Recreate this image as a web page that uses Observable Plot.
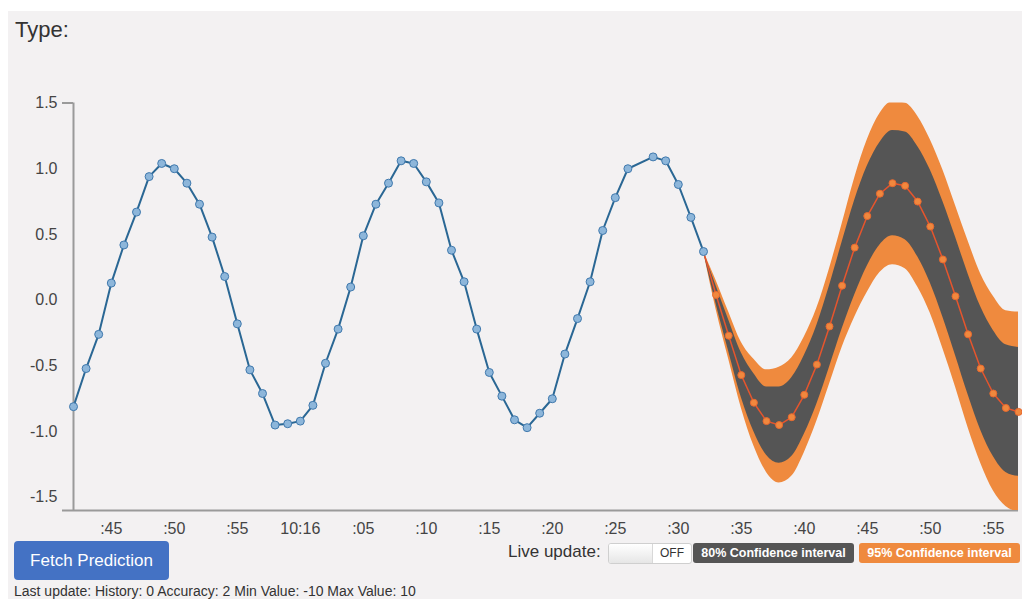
<!DOCTYPE html>
<html>
<head>
<meta charset="utf-8">
<script src="https://cdn.jsdelivr.net/npm/d3@7"></script>
<script src="https://cdn.jsdelivr.net/npm/@observablehq/plot@0.6"></script>
<style>
  html, body { margin: 0; padding: 0; background: #ffffff; }
  body { width: 1022px; height: 599px; position: relative; overflow: hidden; font-family: "Liberation Sans", Arial, sans-serif; }
  #panel { position: absolute; left: 8px; top: 11px; width: 1014px; height: 588px; background: #f3f1f2; }
  #chart { position: absolute; left: 0; top: 0; }
  .abs { position: absolute; white-space: nowrap; }
  #title { left: 15px; top: 19px; font-size: 22px; line-height: 22px; color: #333; }
  #btn { left: 14px; top: 541px; width: 155px; height: 39px; background: #4472c4; border-radius: 4px; color: #fff; font-size: 17px; line-height: 39px; text-align: center; }
  #last { left: 14px; top: 584px; font-size: 14px; line-height: 14px; color: #333; }
  #live { left: 508px; top: 543px; font-size: 17px; line-height: 18px; color: #333; }
  #toggle { left: 608px; top: 543px; width: 82px; height: 19px; border: 1px solid #cfcfcf; border-radius: 3px; background: #fff; overflow: hidden; }
  #toggle .knob { position: absolute; left: 0; top: 0; width: 43px; height: 19px; background: linear-gradient(#ffffff, #e6e6e6); border-right: 1px solid #d8d8d8; }
  #toggle .off { position: absolute; left: 44px; top: 0; width: 38px; height: 19px; line-height: 19px; font-size: 12px; color: #333; text-align: center; }
  .badge { top: 543px; height: 20px; line-height: 20px; border-radius: 3px; color: #fff; font-weight: bold; font-size: 12.5px; text-align: center; }
  #b80 { left: 693px; width: 161px; background: #555555; }
  #b95 { left: 859px; width: 161px; background: #ef8a3e; }
</style>
</head>
<body>
<div id="panel"></div>
<div id="chart"></div>
<div id="title" class="abs">Type:</div>
<div id="btn" class="abs">Fetch Prediction</div>
<div id="last" class="abs">Last update: History: 0 Accuracy: 2 Min Value: -10 Max Value: 10</div>
<div id="live" class="abs">Live update:</div>
<div id="toggle" class="abs"><div class="knob"></div><div class="off">OFF</div></div>
<div id="b80" class="abs badge">80% Confidence interval</div>
<div id="b95" class="abs badge">95% Confidence interval</div>
<script>
// seconds after 10:15:00
const histSec = [42,43,44,45,46,47,48,49,50,51,52,53,54,55,56,57,58,59,60,61,62,63,64,65,66,67,68,69,70,71,72,73,74,75,76,77,78,79,80,81,82,83,84,85,86,88,89,90,91,92];
const histVal = [-0.81,-0.52,-0.26,0.13,0.42,0.67,0.94,1.04,1.00,0.89,0.73,0.48,0.18,-0.18,-0.53,-0.71,-0.95,-0.94,-0.92,-0.80,-0.48,-0.22,0.10,0.49,0.73,0.89,1.06,1.04,0.90,0.74,0.38,0.14,-0.22,-0.55,-0.73,-0.91,-0.97,-0.86,-0.75,-0.41,-0.14,0.14,0.53,0.78,1.00,1.09,1.06,0.88,0.63,0.37];

const predSec = [93,94,95,96,97,98,99,100,101,102,103,104,105,106,107,108,109,110,111,112,113,114,115,116,117];
const predVal = [0.04,-0.27,-0.57,-0.78,-0.92,-0.95,-0.89,-0.72,-0.49,-0.20,0.11,0.40,0.64,0.81,0.89,0.87,0.75,0.56,0.31,0.03,-0.26,-0.52,-0.71,-0.82,-0.85];

const bandSec = [92,93,94,95,96,97,98,99,100,101,102,103,104,105,106,107,108,109,110,111,112,113,114,115,116,117];
const lo80 = [0.37,-0.03,-0.39,-0.74,-1.00,-1.18,-1.24,-1.19,-1.02,-0.79,-0.51,-0.22,0.04,0.26,0.42,0.49,0.46,0.33,0.13,-0.13,-0.42,-0.72,-0.99,-1.19,-1.31,-1.34];
const hi80 = [0.37,0.11,-0.15,-0.40,-0.56,-0.66,-0.66,-0.59,-0.42,-0.19,0.11,0.44,0.76,1.02,1.20,1.29,1.28,1.17,0.99,0.75,0.48,0.20,-0.05,-0.23,-0.34,-0.36];
const lo95 = [0.37,-0.07,-0.45,-0.82,-1.11,-1.31,-1.39,-1.34,-1.16,-0.92,-0.64,-0.36,-0.13,0.06,0.21,0.27,0.24,0.10,-0.10,-0.37,-0.66,-0.97,-1.24,-1.45,-1.57,-1.61];
const hi95 = [0.37,0.15,-0.09,-0.32,-0.45,-0.53,-0.51,-0.44,-0.28,-0.06,0.24,0.58,0.93,1.22,1.42,1.51,1.50,1.40,1.22,0.99,0.72,0.45,0.20,0.03,-0.08,-0.09];

const yTicks = [1.5,1.0,0.5,0.0,-0.5,-1.0,-1.5];
const yLabels = ["1.5","1.0","0.5","0.0","-0.5","-1.0","-1.5"];
const xTickSec = [45,50,55,60,65,70,75,80,85,90,95,100,105,110,115];
const xTickLabels = [":45",":50",":55","10:16",":05",":10",":15",":20",":25",":30",":35",":40",":45",":50",":55"];

const T0 = Date.UTC(2017,0,1,10,15,0);
const toDate = s => new Date(T0 + s * 1000);

const hist = histSec.map((s, i) => ({t: toDate(s), v: histVal[i]}));
const pred = predSec.map((s, i) => ({t: toDate(s), v: predVal[i]}));
const predLine = [hist[hist.length - 1], ...pred];
const band = bandSec.map((s, i) => ({t: toDate(s), lo80: lo80[i], hi80: hi80[i], lo95: lo95[i], hi95: hi95[i]}));

const xStart = toDate(histSec[0]);
const xEnd = toDate(predSec[predSec.length - 1]);
const yMin = -1.6, yMax = 1.5;

const xLabelMap = new Map(xTickSec.map((s, i) => [+toDate(s), xTickLabels[i]]));
const yLabelMap = new Map(yTicks.map((v, i) => [v, yLabels[i]]));

const axisColor = "#9a9a9a";

const chart = Plot.plot({
  width: 1022,
  height: 545,
  marginLeft: 73,
  marginRight: 4,
  marginTop: 102.5,
  marginBottom: 35,
  x: {type: "utc", domain: [xStart, xEnd], label: null},
  y: {domain: [yMin, yMax], label: null},
  style: {background: "transparent", fontFamily: "'Liberation Sans', Arial, sans-serif", fontSize: "16px", color: "#444"},
  marks: [
    Plot.ruleX([xStart], {y1: yMin, y2: yMax, stroke: axisColor, strokeWidth: 2}),
    Plot.ruleY([yMin], {x1: xStart, x2: xEnd, insetLeft: -11, stroke: axisColor, strokeWidth: 2}),
    Plot.ruleY([yMax], {x1: xStart, x2: xStart, insetLeft: -11, stroke: axisColor, strokeWidth: 2}),
    Plot.areaY(band, {x: "t", y1: "lo95", y2: "hi95", fill: "#ef8a3e", curve: "monotone-x", clip: true}),
    Plot.areaY(band, {x: "t", y1: "lo80", y2: "hi80", fill: "#555555", curve: "monotone-x", clip: true}),
    Plot.line(predLine, {x: "t", y: "v", stroke: "#e6552d", strokeWidth: 1.5}),
    Plot.dot(pred, {x: "t", y: "v", r: 3.5, fill: "#f0883e", stroke: "#e8692f", strokeWidth: 1}),
    Plot.line(hist, {x: "t", y: "v", stroke: "#2a6794", strokeWidth: 2}),
    Plot.dot(hist, {x: "t", y: "v", r: 4, fill: "#8db6da", stroke: "#4079ad", strokeWidth: 1}),
    Plot.axisY(yTicks, {tickSize: 0, tickPadding: 16, tickFormat: d => yLabelMap.get(d), fontSize: 16, fill: "#444", label: null}),
    Plot.axisX(xTickSec.map(toDate), {tickSize: 0, tickPadding: 12, tickFormat: d => xLabelMap.get(+d), fontSize: 16, fill: "#444", label: null})
  ]
});
document.getElementById("chart").appendChild(chart);
</script>
</body>
</html>
